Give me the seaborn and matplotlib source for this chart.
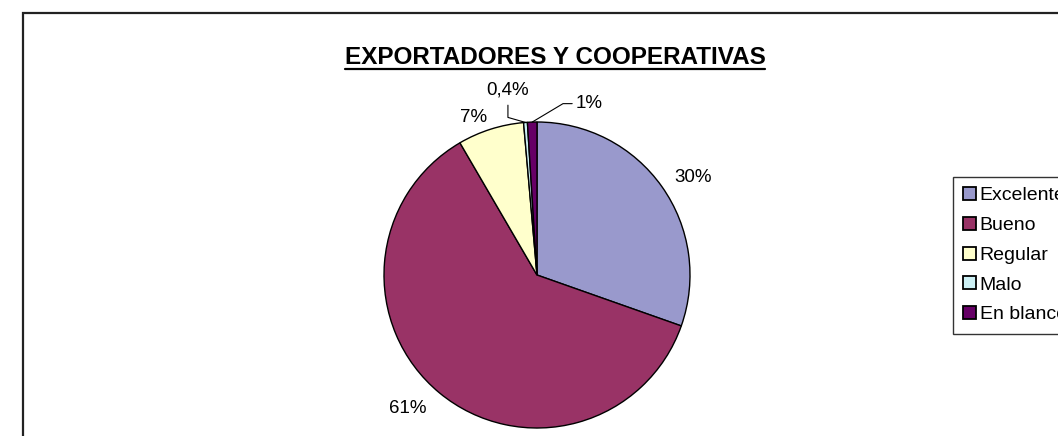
import numpy as np
import matplotlib
matplotlib.use("Agg")
import matplotlib.pyplot as plt
import seaborn as sns
from matplotlib.patches import Rectangle

# data
categories = ["Excelente", "Bueno", "Regular", "Malo", "En blanco"]
shares = [30.4, 61.2, 7.0, 0.4, 1.0]
pct_labels = ["30%", "61%", "7%", "0,4%", "1%"]
slice_colors = ["#9999CC", "#993366", "#FFFFCC", "#CCF0F4", "#660066"]
title = "EXPORTADORES Y COOPERATIVAS"

sns.set_style("white")
plt.rcParams["font.family"] = ["Liberation Sans", "DejaVu Sans"]
plt.rcParams["text.color"] = "black"

W, H = 1058, 436
fig = plt.figure(figsize=(W / 100, H / 100), dpi=100)

# outer chart frame (Excel style, runs off the right/bottom edge)
fig.patches.append(Rectangle((23 / W, -0.1), 1.2, 1 - 13 / H + 0.1,
                             transform=fig.transFigure, fill=False,
                             edgecolor="#222222", lw=1.6, zorder=0))

cx, cy, r = 537, 275, 153
ax = fig.add_axes([(cx - r) / W, (H - cy - r) / H, 2 * r / W, 2 * r / H])
palette = sns.color_palette(slice_colors)
wedges, _ = ax.pie(shares, colors=palette, startangle=90, counterclock=False,
                   radius=1, wedgeprops=dict(edgecolor="black", linewidth=1.0))
ax.set_xlim(-1, 1)
ax.set_ylim(-1, 1)
ax.set_aspect("equal")
ax.axis("off")

# percentage labels for the big slices
label_dist = [1.1, 1.13, 1.08]
for i in range(3):
    w = wedges[i]
    mid = np.deg2rad((w.theta1 + w.theta2) / 2)
    x, y = np.cos(mid), np.sin(mid)
    d = label_dist[i]
    ax.text(d * x, d * y, pct_labels[i], ha="left" if x > 0 else "right",
            va="center", fontsize=13.5)

# small slices with leader lines
m = np.deg2rad((wedges[3].theta1 + wedges[3].theta2) / 2)
ex, ey = np.cos(m), np.sin(m)
ax.plot([ex, -0.19, -0.19], [ey, 1.03, 1.11], color="black", lw=0.8, clip_on=False)
ax.text(-0.19, 1.21, pct_labels[3], ha="center", va="center", fontsize=13.5)

m = np.deg2rad((wedges[4].theta1 + wedges[4].theta2) / 2)
ex, ey = np.cos(m), np.sin(m)
ax.plot([ex, 0.17, 0.23], [ey, 1.12, 1.12], color="black", lw=0.8, clip_on=False)
ax.text(0.25, 1.12, pct_labels[4], ha="left", va="center", fontsize=13.5)

# title with underline
t = fig.text(555 / W, 1 - 57 / H, title, ha="center", va="center",
             fontsize=17.5, fontweight="bold")
fig.canvas.draw()
bb = t.get_window_extent(fig.canvas.get_renderer())
fig.add_artist(plt.Line2D([bb.x0 / W, bb.x1 / W], [(bb.y0 - 1) / H, (bb.y0 - 1) / H],
                          transform=fig.transFigure, color="black", lw=1.6))

leg = ax.legend(wedges, categories, loc="upper left",
                bbox_to_anchor=(953 / W, 1 - 177 / H), bbox_transform=fig.transFigure,
                frameon=True, fancybox=False, edgecolor="black", fontsize=14,
                handlelength=0.65, handleheight=0.65, handletextpad=0.2,
                labelspacing=0.64, borderpad=0.52, borderaxespad=0)
leg.get_frame().set_linewidth(1.0)
for h in leg.legend_handles:
    h.set_linewidth(1.3)

fig.savefig("out.png", dpi=100)
